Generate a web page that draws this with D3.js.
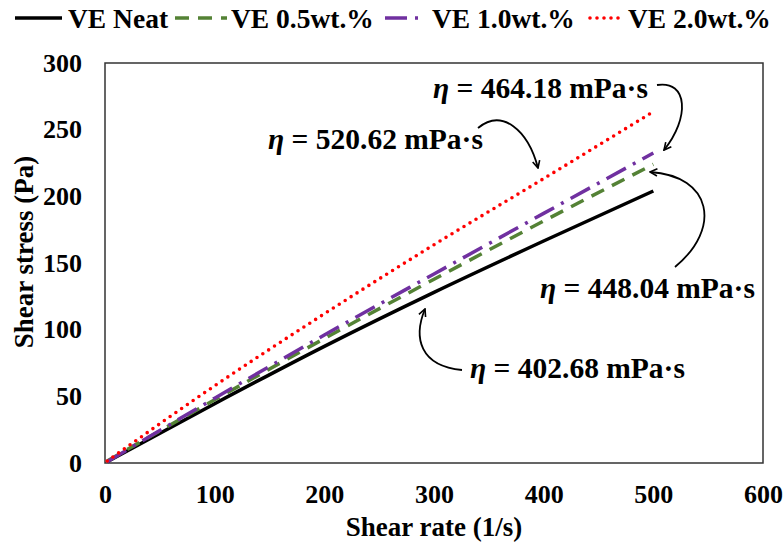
<!DOCTYPE html>
<html><head><meta charset="utf-8">
<script src="https://cdn.jsdelivr.net/npm/d3@7"></script>
<style>body{margin:0;background:#fff}svg{display:block}text{font-family:"Liberation Serif","Times New Roman",serif;font-weight:bold}</style>
</head><body><svg id="c" width="783" height="544"></svg>
<script>
const shearRate = [2, 100, 200, 300, 400, 500];
const veNeat = [1, 44.5, 87.5, 128, 166.5, 204];
const ve05 = [1.5, 47.4, 93.3, 137.8, 181.5, 224];
const ve10 = [1, 48.6, 96, 141.8, 187.2, 232.5];
const ve20 = [1.5, 57.9, 111.9, 163.7, 213.3, 263.5];
const seriesNames = ["VE Neat", "VE 0.5wt.%", "VE 1.0wt.%", "VE 2.0wt.%"];
const xTicks = [0, 100, 200, 300, 400, 500, 600];
const yTicks = [0, 50, 100, 150, 200, 250, 300];
const viscLabels = ["464.18", "520.62", "448.04", "402.68"];

const svg = d3.select("#c");
const x = d3.scaleLinear().domain([0, 600]).range([105, 763]);
const y = d3.scaleLinear().domain([0, 300]).range([463, 63]);

const styles = [
  {color:"#000000", dash:null, w:3.5, cap:"butt"},
  {color:"#548235", dash:"14,9", w:3.5, cap:"butt"},
  {color:"#7030A0", dash:"22,8,3,8", w:3.5, cap:"butt"},
  {color:"#FF0000", dash:"0,7", w:3.6, cap:"round"}
];
const data = [veNeat, ve05, ve10, ve20];

svg.append("rect").attr("x", x(0)).attr("y", y(300)).attr("width", x(600)-x(0)).attr("height", y(0)-y(300))
  .attr("fill","none").attr("stroke","#333").attr("stroke-width",1.5);

const xa = svg.append("g").attr("transform", `translate(0,${y(0)})`)
  .call(d3.axisBottom(x).tickValues(xTicks).tickSize(0).tickPadding(22));
const ya = svg.append("g").attr("transform", `translate(${x(0)},0)`)
  .call(d3.axisLeft(y).tickValues(yTicks).tickSize(0).tickPadding(23));
[xa, ya].forEach(g => { g.select(".domain").remove(); g.selectAll("text").attr("font-size",26).attr("font-family","Liberation Serif").attr("font-weight","bold").attr("fill","#000"); });

svg.append("text").attr("x", (x(0)+x(600))/2).attr("y", 536).attr("text-anchor","middle").attr("font-size",27).text("Shear rate (1/s)");
svg.append("text").attr("transform", `translate(33,252) rotate(-90)`).attr("text-anchor","middle").attr("font-size",27).text("Shear stress (Pa)");

const line = d3.line().x((d,i) => x(shearRate[i])).y(d => y(d)).curve(d3.curveMonotoneX);
data.forEach((s, k) => {
  const st = styles[k];
  svg.append("path").datum(s).attr("d", line).attr("fill","none")
    .attr("stroke", st.color).attr("stroke-width", st.w).attr("stroke-linecap", st.cap)
    .attr("stroke-dasharray", st.dash);
});

const legX = [[15,62,68],[175,227,231],[385,420,432],[590,625,628]];
seriesNames.forEach((n,k) => {
  const st = styles[k];
  svg.append("line").attr("x1",legX[k][0]).attr("x2",legX[k][1]).attr("y1",18).attr("y2",18)
    .attr("stroke",st.color).attr("stroke-width",st.w).attr("stroke-linecap",st.cap).attr("stroke-dasharray",st.dash);
  svg.append("text").attr("x",legX[k][2]).attr("y",28).attr("font-size",27.5).text(n);
});

const ann = [
  {tx:433, ty:98, path:"M657,85 C688,80 690,118 664,150"},
  {tx:268, ty:149, path:"M478,128 C502,108 528,130 538,168"},
  {tx:540, ty:298, path:"M675,267 C722,228 712,176 650,172"},
  {tx:470, ty:378, path:"M462,370 C420,366 413,338 425,309"}
];
svg.append("defs").append("marker").attr("id","ah").attr("viewBox","0 0 10 10").attr("refX",9).attr("refY",5)
  .attr("markerWidth",9).attr("markerHeight",9).attr("orient","auto").attr("markerUnits","userSpaceOnUse")
  .append("path").attr("d","M1,1 L9,5 L1,9").attr("fill","none").attr("stroke","#000").attr("stroke-width",1.8);
ann.forEach((a,i) => {
  const t = svg.append("text").attr("x",a.tx).attr("y",a.ty).attr("font-size",29.5);
  t.append("tspan").attr("font-style","italic").text("η");
  t.append("tspan").text(" = " + viscLabels[i] + " mPa·s");
  svg.append("path").attr("d",a.path).attr("fill","none").attr("stroke","#000").attr("stroke-width",1.8).attr("marker-end","url(#ah)");
});
</script></body></html>
